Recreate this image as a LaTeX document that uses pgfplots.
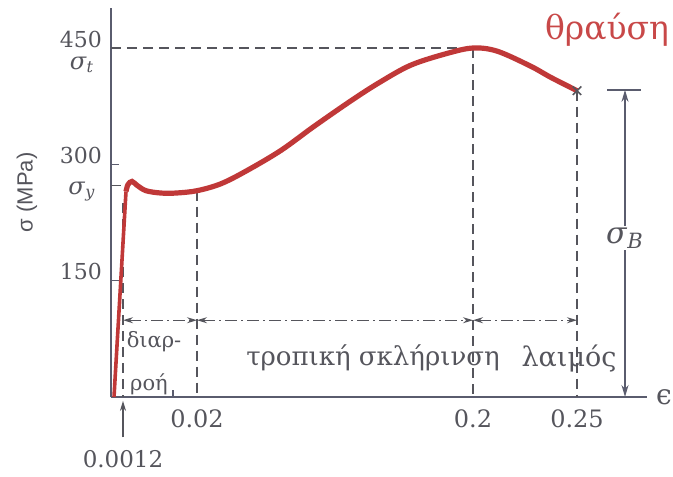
\documentclass[border=0pt]{standalone}
\usepackage{fontspec}
\setmainfont{DejaVu Serif}
\newfontfamily\sansf{Liberation Sans}
\usepackage{pgfplots}
\pgfplotsset{compat=1.18}
\usetikzlibrary{arrows.meta}
\definecolor{curve}{RGB}{192,56,56}
\definecolor{txt}{RGB}{85,85,92}
\definecolor{axc}{RGB}{90,92,110}
\definecolor{brk}{RGB}{200,72,72}
\begin{document}
\begin{tikzpicture}
\path[use as bounding box] (-55.5pt,-39.5pt) rectangle (281pt,198.5pt);
\begin{axis}[
  at={(0,0)}, anchor=south west,
  scale only axis, width=268pt, height=194.5pt,
  xmin=0, xmax=536, ymin=0, ymax=501.6,
  axis x line=bottom, axis y line=left,
  axis line style={-, axc, line width=0.9pt},
  clip=false,
  ytick={150,300,450},
  tick align=inside, major tick length=4pt,
  ytick style={axc, line width=0.8pt},
  xtick style={draw=none},
  yticklabel style={font=\fontsize{11}{12}\selectfont, text=txt, anchor=base east, xshift=-1pt, yshift=0.5pt},
  xtick={86,362,466}, xticklabels={0.02,0.2,0.25},
  xticklabel style={font=\fontsize{12}{13}\selectfont, text=txt, yshift=-3pt},
  /pgf/number format/assume math mode=true,
  dashline/.style={txt, line width=0.7pt, dash pattern=on 5pt off 3pt},
  dimline/.style={txt, line width=0.6pt, dash pattern=on 6pt off 2pt on 1pt off 2pt, {Stealth[length=5pt,width=3pt]}-{Stealth[length=5pt,width=3pt]}},
]
% dashed guide lines
\addplot[dashline] coordinates {(0,450) (362,450)};
\addplot[dashline] coordinates {(362,450) (362,0)};
\addplot[dashline] coordinates {(466,395) (466,0)};
\addplot[dashline] coordinates {(86,266) (86,0)};
\addplot[dashline] coordinates {(12,250) (12,0)};
\addplot[dashline] coordinates {(0,273) (17,273)};
\addplot[axc, line width=0.8pt] coordinates {(62,0) (62,9)};
% stress-strain curve
\addplot[curve, line width=1.8pt] coordinates {(3,0) (15,265)};
\addplot[curve, line width=2.6pt, smooth, tension=0.55] coordinates {
 (15,265) (17,274) (21,278) (26,273) (35,266) (50,263) (65,263) (86,266)
 (110,275) (136,292) (170,318) (202,348) (240,382) (269,406) (300,428)
 (336,443) (362,450) (386,446) (419,427) (440,412) (466,395)};
\addplot[only marks, mark=x, mark size=3pt, txt, line width=0.8pt] coordinates {(466,395)};
% dimension lines
\addplot[dimline] coordinates {(12,99) (86,99)};
\addplot[dimline] coordinates {(86,99) (362,99)};
\addplot[dimline] coordinates {(362,99) (466,99)};
% sigma_B
\addplot[axc, line width=0.7pt, {Stealth[length=6pt,width=3.5pt]}-{Stealth[length=6pt,width=3.5pt]}] coordinates {(514,396) (514,0)};
\addplot[axc, line width=0.7pt] coordinates {(496,396) (530,396)};
\node[fill=white, inner sep=1pt, text=txt, font=\fontsize{15}{17}\selectfont] at (axis cs:514,205) {\textit{σ}\textsubscript{\textit{B}}};
% 0.0012 arrow
\addplot[txt, line width=0.7pt, -{Stealth[length=5pt,width=3pt]}] coordinates {(12,-52) (12,-5)};
\node[text=txt, font=\fontsize{11.5}{12}\selectfont] at (axis cs:12,-80) {0.0012};
% labels
\node[text=txt, font=\fontsize{12}{14}\selectfont] at (axis cs:-29,428) {\textit{σ}\textsubscript{\textit{t}}};
\node[text=txt, font=\fontsize{12}{14}\selectfont] at (axis cs:-29,265) {\textit{σ}\textsubscript{\textit{y}}};
\node[text=txt, rotate=90, font=\sansf\fontsize{11}{12}\selectfont] at (axis cs:-84,264) {σ (MPa)};
\node[text=txt, font=\fontsize{10.5}{12}\selectfont] at (axis cs:43,71) {διαρ-};
\node[text=txt, font=\fontsize{10.5}{12}\selectfont] at (axis cs:38,16) {ροή};
\node[text=txt, font=\fontsize{13}{15}\selectfont] at (axis cs:262,50) {τροπική σκλήρινση};
\node[text=txt, font=\fontsize{13.5}{15}\selectfont] at (axis cs:458,50) {λαιμός};
\node[text=brk, font=\fontsize{16.5}{19}\selectfont] at (axis cs:496,473) {θραύση};
\node[text=txt, font=\fontsize{14}{16}\selectfont] at (axis cs:553,0) {ϵ};
\end{axis}
\end{tikzpicture}
\end{document}
